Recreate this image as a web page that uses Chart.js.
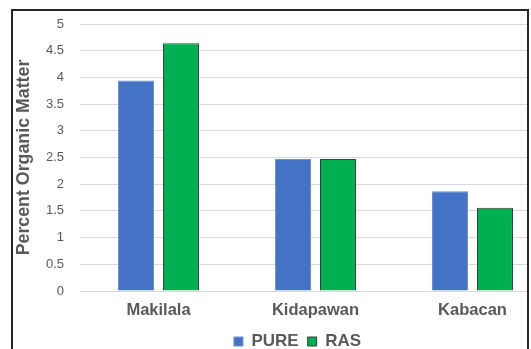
<!DOCTYPE html>
<html>
<head>
<meta charset="utf-8">
<script src="https://cdn.jsdelivr.net/npm/chart.js@4/dist/chart.umd.min.js"></script>
<style>
  html, body { margin: 0; padding: 0; background: #fff; overflow: hidden; width: 531px; height: 349px; }
  #frame {
    position: absolute; left: 11px; top: 9px;
    width: 514px; height: 360px;
    border: 2px solid #262626;
    overflow: hidden; background: #fff;
  }
  #wrap { position: absolute; left: 0; top: 0; width: 569px; height: 349px; }
</style>
</head>
<body>
<div id="frame"><div id="wrap"><canvas id="c"></canvas></div></div>
<script>
// Organic matter content by site, two treatments
const sites = ['Makilala', 'Kidapawan', 'Kabacan'];
const pureValues = [3.94, 2.47, 1.87];
const rasValues = [4.64, 2.47, 1.56];
const seriesNames = ['PURE', 'RAS'];
const yTicks = [0, 0.5, 1, 1.5, 2, 2.5, 3, 3.5, 4, 4.5, 5];

const grey = '#595959';
const face = 'Liberation Sans, Arial, sans-serif';

new Chart(document.getElementById('c'), {
  type: 'bar',
  data: {
    labels: sites,
    datasets: [
      {
        label: seriesNames[0],
        data: pureValues,
        backgroundColor: '#4472C4',
        borderColor: '#6d8fd3',
        borderWidth: 1,
        categoryPercentage: 0.573,
        barPercentage: 0.8
      },
      {
        label: seriesNames[1],
        data: rasValues,
        backgroundColor: '#00B050',
        borderColor: '#3d3d3d',
        borderWidth: 1,
        categoryPercentage: 0.573,
        barPercentage: 0.8
      }
    ]
  },
  options: {
    responsive: true,
    maintainAspectRatio: false,
    animation: false,
    layout: { padding: { top: 13, left: 0, right: 0, bottom: 0 } },
    plugins: {
      tooltip: { enabled: false },
      legend: {
        position: 'bottom',
        labels: {
          boxWidth: 9,
          boxHeight: 9,
          padding: 9,
          color: grey,
          font: { family: face, size: 17, weight: 'bold' }
        }
      }
    },
    scales: {
      x: {
        grid: { display: false, drawTicks: false },
        border: { display: false },
        ticks: {
          padding: 10,
          color: grey,
          font: { family: face, size: 16.5, weight: 'bold' }
        },
        afterFit: s => { s.height = 33; }
      },
      y: {
        min: 0,
        max: 5,
        afterBuildTicks: s => { s.ticks = yTicks.map(v => ({ value: v })); },
        grid: { color: '#d9d9d9', lineWidth: 1, drawTicks: false },
        border: { display: false },
        ticks: {
          padding: 16,
          color: grey,
          font: { family: face, size: 13 },
          callback: v => String(v)
        },
        title: {
          display: true,
          text: 'Percent Organic Matter',
          color: grey,
          padding: { top: 0, bottom: 0 },
          font: { family: face, size: 17.8, weight: 'bold' }
        },
        afterFit: s => { s.width = 67; s.paddingTop = 0; s.paddingBottom = 0; }
      },
      // empty right-hand axis that reserves space at the far side of the plot
      spacer: {
        type: 'linear',
        position: 'right',
        grid: { display: false, drawTicks: false },
        border: { display: false },
        ticks: { display: false },
        afterFit: s => { s.width = 31; s.paddingTop = 0; s.paddingBottom = 0; }
      }
    }
  }
});
</script>
</body>
</html>
